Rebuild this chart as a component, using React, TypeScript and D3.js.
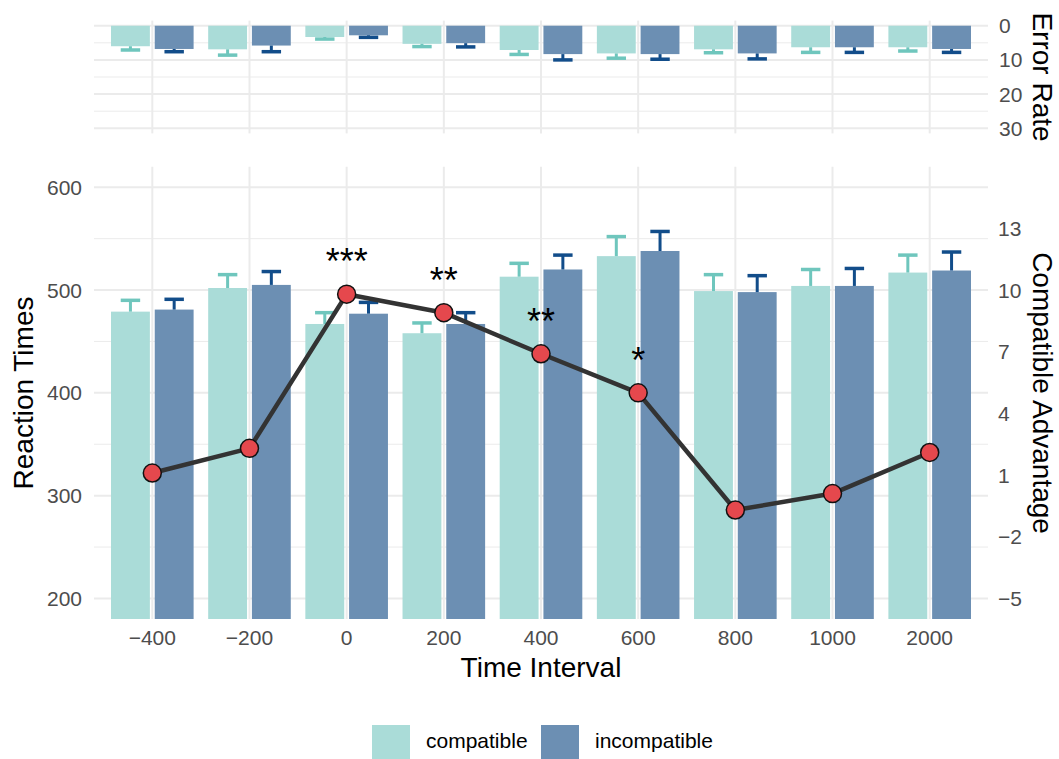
import React from 'react';
import * as d3 from 'd3';

const categories = ['−400', '−200', '0', '200', '400', '600', '800', '1000', '2000'];

// reaction times (bottom panel, left axis)
const rtCompatible = [479, 502, 467, 458, 513, 533, 499, 504, 517];
const rtCompatibleSe = [11, 13, 11, 10, 13, 19, 16, 16, 17];
const rtIncompatible = [481, 505, 477, 467, 520, 538, 498, 504, 519];
const rtIncompatibleSe = [10, 13, 11, 11, 14, 19, 16, 17, 18];

// compatible advantage (bottom panel, right axis)
const advantage = [1.1, 2.3, 9.8, 8.9, 6.9, 5.0, -0.7, 0.1, 2.1];
const stars = ['', '', '***', '**', '**', '*', '', '', ''];

// error rates (top panel)
const errCompatible = [6.0, 6.9, 3.3, 5.3, 7.1, 8.1, 6.9, 6.3, 6.3];
const errCompatibleSe = [1.1, 1.7, 0.6, 0.8, 1.3, 1.4, 1.0, 1.5, 1.1];
const errIncompatible = [6.8, 5.8, 2.8, 5.1, 8.3, 8.3, 8.1, 6.3, 6.8];
const errIncompatibleSe = [0.8, 1.8, 0.6, 1.1, 1.7, 1.5, 1.6, 1.5, 1.0];

const rtTicks = [200, 300, 400, 500, 600];
const rtMinor = [250, 350, 450, 550];
const advTicks = [-5, -2, 1, 4, 7, 10, 13];
const errTicks = [0, 10, 20, 30];
const errMinor = [5, 15, 25];

const groups = ['compatible', 'incompatible'];

const font = '"Liberation Sans", Arial, sans-serif';
const fillComp = '#aadcd8';
const fillIncomp = '#6c8fb3';
const errComp = '#6fc6bd';
const errIncomp = '#124d8a';
const grid = '#ebebeb';

export default function App() {
  const width = 1059;
  const height = 759;
  const left = 94;
  const right = 988;

  const x = d3.scalePoint<string>().domain(categories).range([left, right]).padding(0.6);
  const step = x.step();
  const barW = step * 0.4;
  const dodge = step * 0.225;
  const capW = step * 0.2;

  const yRt = d3.scaleLinear().domain([180, 620]).range([619, 166.7]);
  const yAdv = d3.scaleLinear().domain([-6, 16]).range([619, 166.7]);
  const yErr = d3.scaleLinear().domain([-1.5, 31.5]).range([20.6, 133.4]);

  const line = d3.line<number>()
    .x((d, i) => x(categories[i])!)
    .y((d) => yAdv(d));

  const rtSeries = [
    { vals: rtCompatible, se: rtCompatibleSe, fill: fillComp, err: errComp, off: -dodge },
    { vals: rtIncompatible, se: rtIncompatibleSe, fill: fillIncomp, err: errIncomp, off: dodge },
  ];
  const errSeries = [
    { vals: errCompatible, se: errCompatibleSe, fill: fillComp, err: errComp, off: -dodge },
    { vals: errIncompatible, se: errIncompatibleSe, fill: fillIncomp, err: errIncomp, off: dodge },
  ];

  const tickStyle = { fontFamily: font, fontSize: 21, fill: '#4d4d4d' };
  const titleStyle = { fontFamily: font, fontSize: 28, fill: '#000' };

  return (
    <svg width={width} height={height} style={{ position: 'absolute', left: 0, top: 0, background: '#fff' }}>
      {/* ---------- top panel: error rate ---------- */}
      <g>
        {errMinor.map((t) => (
          <line key={'em' + t} x1={left} x2={right} y1={yErr(t)} y2={yErr(t)} stroke={grid} strokeWidth={1} />
        ))}
        {errTicks.map((t) => (
          <line key={'eg' + t} x1={left} x2={right} y1={yErr(t)} y2={yErr(t)} stroke={grid} strokeWidth={2} />
        ))}
        {categories.map((c) => (
          <line key={'ev' + c} x1={x(c)} x2={x(c)} y1={20.6} y2={133.4} stroke={grid} strokeWidth={2} />
        ))}
        {errSeries.map((s, si) => (
          <g key={'es' + si}>
            {s.vals.map((v, i) => {
              const cx = x(categories[i])! + s.off;
              const yb = yErr(v);
              const ye = yErr(v + s.se[i]);
              return (
                <g key={i}>
                  <rect x={cx - barW / 2} y={yErr(0)} width={barW} height={yb - yErr(0)} fill={s.fill} />
                  <line x1={cx} x2={cx} y1={yb} y2={ye} stroke={s.err} strokeWidth={3} />
                  <line x1={cx - capW / 2} x2={cx + capW / 2} y1={ye} y2={ye} stroke={s.err} strokeWidth={3.5} />
                </g>
              );
            })}
          </g>
        ))}
        {errTicks.map((t) => (
          <text key={'et' + t} x={999} y={yErr(t)} dy="0.36em" style={tickStyle}>{t}</text>
        ))}
        <text transform={`translate(1033,${(20.6 + 133.4) / 2}) rotate(90)`} textAnchor="middle" style={titleStyle}>
          Error Rate
        </text>
      </g>

      {/* ---------- bottom panel: reaction times ---------- */}
      <g>
        {rtMinor.map((t) => (
          <line key={'rm' + t} x1={left} x2={right} y1={yRt(t)} y2={yRt(t)} stroke={grid} strokeWidth={1} />
        ))}
        {rtTicks.map((t) => (
          <line key={'rg' + t} x1={left} x2={right} y1={yRt(t)} y2={yRt(t)} stroke={grid} strokeWidth={2} />
        ))}
        {categories.map((c) => (
          <line key={'rv' + c} x1={x(c)} x2={x(c)} y1={166.7} y2={619} stroke={grid} strokeWidth={2} />
        ))}
        {rtSeries.map((s, si) => (
          <g key={'rs' + si}>
            {s.vals.map((v, i) => {
              const cx = x(categories[i])! + s.off;
              const yt = yRt(v);
              const ye = yRt(v + s.se[i]);
              return (
                <g key={i}>
                  <rect x={cx - barW / 2} y={yt} width={barW} height={yRt(180) - yt} fill={s.fill} />
                  <line x1={cx} x2={cx} y1={yt} y2={ye} stroke={s.err} strokeWidth={3} />
                  <line x1={cx - capW / 2} x2={cx + capW / 2} y1={ye} y2={ye} stroke={s.err} strokeWidth={3.5} />
                </g>
              );
            })}
          </g>
        ))}
        <path d={line(advantage) ?? ''} fill="none" stroke="#333333" strokeWidth={4.5} strokeLinejoin="round" />
        {advantage.map((v, i) => (
          <circle key={'pt' + i} cx={x(categories[i])} cy={yAdv(v)} r={9} fill="#e5484d" stroke="#111" strokeWidth={1.5} />
        ))}
        {stars.map((s, i) => (
          <text key={'st' + i} x={x(categories[i])} y={yAdv(advantage[i]) - 20} textAnchor="middle"
            style={{ fontFamily: font, fontSize: 36, fill: '#000' }}>{s}</text>
        ))}

        {rtTicks.map((t) => (
          <text key={'lt' + t} x={82} y={yRt(t)} dy="0.36em" textAnchor="end" style={tickStyle}>{t}</text>
        ))}
        {advTicks.map((t) => (
          <text key={'at' + t} x={998} y={yAdv(t)} dy="0.36em" style={tickStyle}>{d3.format('')(t).replace('-', '−')}</text>
        ))}
        {categories.map((c) => (
          <text key={'xt' + c} x={x(c)} y={645} textAnchor="middle" style={tickStyle}>{c}</text>
        ))}

        <text x={(left + right) / 2} y={677} textAnchor="middle" style={titleStyle}>Time Interval</text>
        <text transform={`translate(33,393) rotate(-90)`} textAnchor="middle" style={titleStyle}>Reaction Times</text>
        <text transform={`translate(1033,393) rotate(90)`} textAnchor="middle" style={titleStyle}>Compatible Advantage</text>
      </g>

      {/* ---------- legend ---------- */}
      <g>
        {groups.map((g, i) => {
          const lx = i === 0 ? 372 : 541;
          return (
            <g key={g}>
              <rect x={lx} y={725} width={38} height={38} fill={i === 0 ? fillComp : fillIncomp} />
              <text x={lx + 54} y={748} style={{ fontFamily: font, fontSize: 21, fill: '#000' }}>{g}</text>
            </g>
          );
        })}
      </g>
    </svg>
  );
}
